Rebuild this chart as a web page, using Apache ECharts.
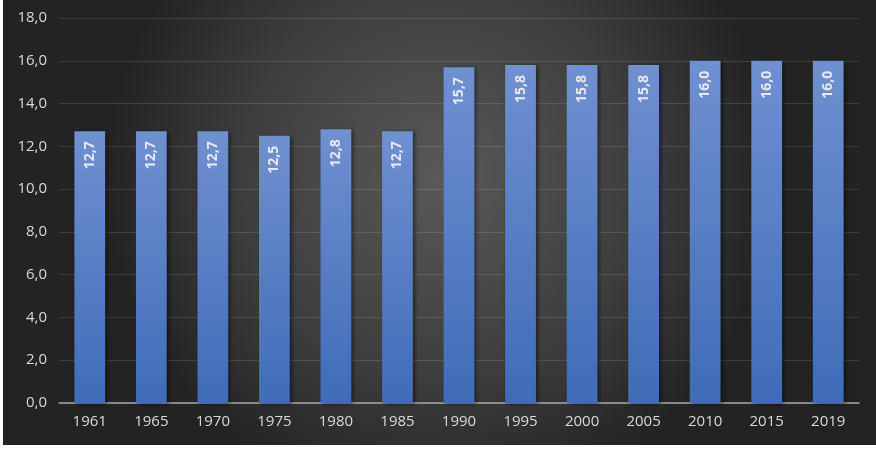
<!DOCTYPE html>
<html>
<head>
<meta charset="utf-8">
<script src="https://cdn.jsdelivr.net/npm/echarts@6/dist/echarts.min.js"></script>
<style>
html,body{margin:0;padding:0;background:#fff;}
#chart{position:absolute;left:3px;top:0;width:873px;height:445px;}
</style>
</head>
<body>
<div id="chart"></div>
<script>
// anos e valores
var years = ['1961','1965','1970','1975','1980','1985','1990','1995','2000','2005','2010','2015','2019'];
var values = [12.7, 12.7, 12.7, 12.5, 12.8, 12.7, 15.7, 15.8, 15.8, 15.8, 16.0, 16.0, 16.0];

var fmt = function (v) { return Number(v).toFixed(1).replace('.', ','); };

var chart = echarts.init(document.getElementById('chart'));
chart.setOption({
	backgroundColor: {
		type: 'radial', x: 0.5, y: 0.4, r: 0.75,
		colorStops: [
			{offset: 0, color: '#595959'},
			{offset: 0.6, color: '#3d3d3d'},
			{offset: 1, color: '#232323'}
		]
	},
	animation: false,
	grid: {left: 56, right: 17, top: 18, bottom: 42},
	xAxis: {
		type: 'category',
		data: years,
		axisLine: {lineStyle: {color: '#a6a6a6', width: 1.5}},
		axisTick: {show: false},
		axisLabel: {color: '#d9d9d9', fontSize: 15, fontFamily: 'Open Sans', margin: 11}
	},
	yAxis: {
		type: 'value',
		min: 0, max: 18, interval: 2,
		axisLine: {show: false},
		axisTick: {show: false},
		splitLine: {lineStyle: {color: 'rgba(255,255,255,0.12)', width: 1}},
		axisLabel: {color: '#d9d9d9', fontSize: 15, fontFamily: 'Open Sans', margin: 12, formatter: fmt}
	},
	series: [{
		type: 'bar',
		data: values,
		barWidth: '50%',
		itemStyle: {
			color: {
				type: 'linear', x: 0, y: 0, x2: 0, y2: 1,
				colorStops: [
					{offset: 0, color: '#7090d0'},
					{offset: 1, color: '#3f6cb8'}
				]
			},
			shadowColor: 'rgba(0,0,0,0.5)', shadowBlur: 4, shadowOffsetX: 2, shadowOffsetY: 1
		},
		label: {
			show: true,
			position: 'insideTop',
			rotate: 90,
			align: 'right',
			verticalAlign: 'middle',
			distance: 10,
			color: '#e6e9f0',
			fontWeight: 'bold',
			fontSize: 14,
			fontFamily: 'Open Sans',
			formatter: function (p) { return fmt(p.value); }
		}
	}]
});
</script>
</body>
</html>
